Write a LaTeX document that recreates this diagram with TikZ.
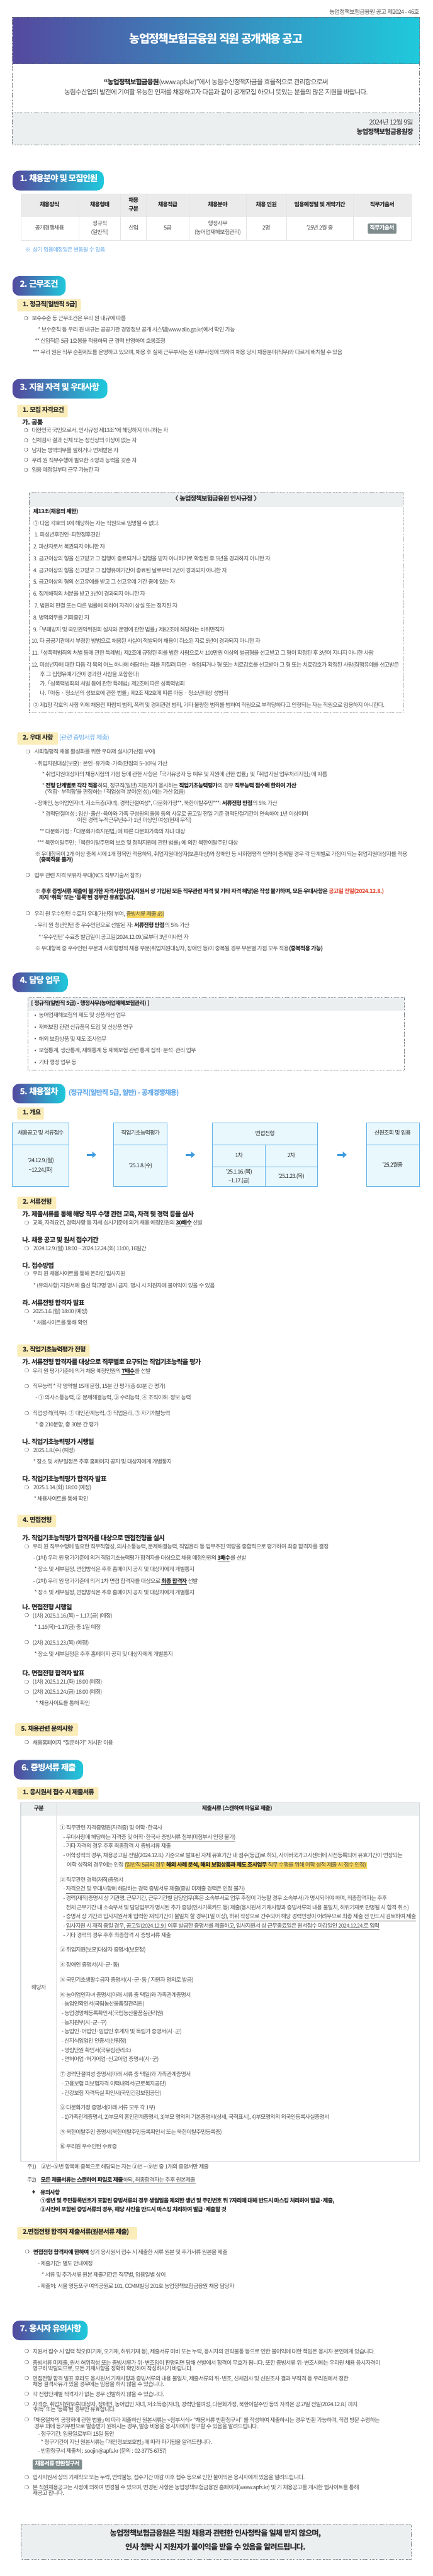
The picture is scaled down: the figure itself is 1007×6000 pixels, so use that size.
\documentclass[tikz,border=0pt]{standalone}
\usepackage{fontspec}
\usetikzlibrary{arrows.meta}
\setmainfont{Noto Sans CJK KR}[LetterSpace=-7.5]
\newfontfamily\bulfont{DejaVu Sans}
\definecolor{bodyc}{HTML}{505050}
\definecolor{darkc}{HTML}{2E2E2E}
\definecolor{gradl}{HTML}{54499E}
\definecolor{gradr}{HTML}{1FC9DC}
\definecolor{yellowc}{HTML}{FBEDBA}
\definecolor{panelc}{HTML}{EBEFF0}
\definecolor{bluet}{HTML}{62A8EA}
\definecolor{hdrc}{HTML}{EBEBEB}
\definecolor{btnc}{HTML}{7F8C8D}
\definecolor{flowf}{HTML}{E8F8FD}
\definecolor{flowl}{HTML}{62B3EC}
\definecolor{arrowc}{HTML}{3D9BE0}
\definecolor{hlc}{HTML}{FAD961}
\definecolor{redt}{HTML}{E4543F}
\definecolor{gridc}{HTML}{E4E4E4}
\definecolor{framec}{HTML}{D2D9DE}
\definecolor{dashc}{HTML}{6F767C}
\newcounter{tn}
\newcommand{\Zs}{\rule[-.42em]{0pt}{1.18em}}
\newcommand{\Tx}[4][body]{\stepcounter{tn}\node[#1] (t\arabic{tn}) at (#2,#3) {\Zs #4};}
\newcommand{\rbox}[6][]{%
  \pgfmathsetmacro\rw{(#5-#3)*0.75}\pgfmathsetmacro\rh{(#6-#4)*0.75}%
  \node[inner sep=0,outer sep=0,anchor=north west,minimum width=\rw pt,minimum height=\rh pt,#1] (#2) at (#3,#4) {};}
\newcommand{\Li}[4]{\Tx[bulc]{#1}{#3}{❍}\Tx{#2}{#3}{#4}}
\newcommand{\Bd}[1]{{\bfseries\color{darkc}#1}}
\newcommand{\lb}{\kern-.42em「}
\newcommand{\rb}{」\kern-.42em}
\tikzset{
  txt/.style={inner sep=0,outer sep=0,anchor=west},
  body/.style={txt,font=\fontsize{9.9}{12}\selectfont,text=bodyc},
  head/.style={txt,font=\fontsize{11.4}{14}\selectfont\bfseries,text=darkc},
  yhead/.style={txt,font=\fontsize{11.2}{14}\selectfont\bfseries,text=darkc},
  pillt/.style={txt,font=\fontsize{14.7}{18}\selectfont\bfseries,text=white},
  bulc/.style={txt,font=\bulfont\fontsize{9}{11}\selectfont,text=darkc},
  cell/.style={txt,anchor=center,font=\fontsize{9.9}{12}\selectfont,text=bodyc},
  hcell/.style={txt,anchor=center,font=\fontsize{9.9}{12}\selectfont\bfseries,text=darkc},
  bbody/.style={txt,font=\fontsize{9.9}{12}\selectfont\bfseries,text=darkc},
  pill/.style={rounded corners=12pt,left color=gradl,right color=gradr},
  ybox/.style={rounded corners=1.5pt,fill=yellowc},
  dashbox/.style={draw=dashc,line width=.75pt,dash pattern=on 1.5pt off 1pt},
  flowbox/.style={draw=flowl,line width=1pt,fill=flowf},
  hl/.style={fill=hlc},
  btn/.style={fill=btnc,rounded corners=1.5pt},
  flowarrow/.style={draw=arrowc,line width=3pt,-{Triangle[length=7pt,width=11pt]}},
  gridl/.style={draw=gridc,line width=.75pt},
  flowl2/.style={draw=flowl,line width=1pt}
}
\begin{document}
\begin{tikzpicture}[x=0.75pt,y=-0.75pt]
\useasboundingbox (0,0) rectangle (1007,6000);
\fill[white] (0,0) rectangle (1007,6000);
% ---------- banner
\Tx[body,anchor=east,font=\fontsize{10.4}{13}\selectfont]{976}{30}{농업정책보험금융원 공고 제2024 - 46호}
\rbox[left color=gradl,right color=gradr]{band}{29}{40.5}{976}{148}
\rbox[fill=panelc]{datebox}{29}{262}{976}{337}
\rbox[dashbox]{topframe}{29}{40.5}{976}{337}
\draw[dashbox] (29,148) -- (976,148);
\draw[dashbox] (29,262) -- (976,262);
\Tx[txt,anchor=center,font=\fontsize{20}{24}\selectfont\bfseries,text=white]{503}{94.6}{농업정책보험금융원 직원 공개채용 공고}
\Tx[txt,anchor=center,font=\fontsize{11.7}{14}\selectfont,text=bodyc]{503}{193}{\Bd{“농업정책보험금융원}(www.apfs.kr)”에서 농림수산정책자금을 효율적으로 관리함으로써}
\Tx[txt,anchor=center,font=\fontsize{11.6}{14}\selectfont,text=bodyc]{503}{216.6}{농림수산업의 발전에 기여할 유능한 인재를 채용하고자 다음과 같이 공개모집 하오니 뜻있는 분들의 많은 지원을 바랍니다.}
\Tx[txt,anchor=east,font=\fontsize{12}{14}\selectfont,text=bodyc]{962}{287}{2024년 12월 9일}
\Tx[txt,anchor=east,font=\fontsize{11.6}{14}\selectfont\bfseries,text=darkc]{962}{310}{농업정책보험금융원장}
% ---------- section 1
\rbox[pill]{pa}{29}{397.5}{241.5}{443.5}
\Tx[pillt]{46.5}{419}{1. 채용분야 및 모집인원}
\rbox[fill=hdrc]{tahdr}{48.4}{451}{957}{506}
\rbox[draw=gridc,line width=.75pt]{taframe}{48.4}{451}{957}{560}
\draw[gridl] (183,451) -- (183,560) (281,451) -- (281,560) (341,451) -- (341,560) (440,451) -- (440,560) (573,451) -- (573,560) (667,451) -- (667,560) (822,451) -- (822,560);
\Tx[hcell]{115.6}{478}{채용방식}
\Tx[hcell]{232.4}{478}{채용형태}
\Tx[hcell]{311}{468}{채용}
\Tx[hcell]{311}{488.5}{구분}
\Tx[hcell]{390.6}{478}{채용직급}
\Tx[hcell]{506.8}{478}{채용분야}
\Tx[hcell]{620}{478}{채용 인원}
\Tx[hcell]{744.4}{478}{임용예정일 및 계약기간}
\Tx[hcell]{889.6}{478}{직무기술서}
\Tx[cell]{115.6}{532.6}{공개경쟁채용}
\Tx[cell]{232.4}{522}{정규직}
\Tx[cell]{232.4}{542.5}{(일반직)}
\Tx[cell]{311}{532.6}{신입}
\Tx[cell]{390.6}{532.6}{5급}
\Tx[cell]{506.8}{522}{행정사무}
\Tx[cell]{506.8}{542.5}{(농어업재해보험관리)}
\Tx[cell]{620}{532.6}{2명}
\Tx[cell]{744.4}{532.6}{’25년 2월 중}
\rbox[btn]{btna}{856}{520.6}{922.5}{544.5}
\Tx[hcell,text=white]{889.3}{532.6}{직무기술서}
\Tx[body,text=bluet]{58}{584}{※}
\Tx[body,text=bluet]{76}{584}{상기 임용예정일은 변동될 수 있음}
% ---------- section 2
\rbox[pill]{pb}{29}{643}{153}{688.7}
\Tx[pillt]{46.5}{665}{2. 근무조건}
\rbox[ybox]{yb}{40}{696.3}{188.5}{725.3}
\Tx[yhead]{53}{711}{1. 정규직[일반직 5급]}
\Li{55}{74}{743.7}{보수수준 등 근무조건은 우리 원 내규에 따름}
\Tx{88.5}{770}{* 보수준칙 등 우리 원 내규는 공공기관 경영정보 공개 시스템(www.alio.go.kr)에서 확인 가능}
\Tx{81}{796.7}{** 신입직은 5급 1호봉을 적용하되 군 경력 반영하여 호봉조정}
\Tx{76}{823}{*** 우리 원은 직무 순환제도를 운영하고 있으며, 채용 후 실제 근무부서는 원 내부사정에 의하여 채용 당시 채용분야(직무)와 다르게 배치될 수 있음}
% ---------- section 3
\rbox[pill]{pc}{29}{882.7}{250}{928.3}
\Tx[pillt]{46.5}{904}{3. 지원 자격 및 우대사항}
\rbox[ybox]{yc}{40}{942.7}{157.5}{971.7}
\Tx[yhead]{53}{957}{1. 모집 자격요건}
\Tx[head]{52}{985.7}{가. 공통}
\Li{55}{74}{1005}{대한민국 국민으로서, 인사규정 제13조*에 해당하지 아니하는 자}
\Li{55}{74}{1028}{신체검사 결과 신체 또는 정신상의 이상이 없는 자}
\Li{55}{74}{1051}{남자는 병역의무를 필하거나 면제받은 자}
\Li{55}{74}{1074}{우리 원 직무수행에 필요한 소양과 능력을 갖춘 자}
\Li{55}{74}{1097.3}{임용 예정일부터 근무 가능한 자}
% regulation panel
\rbox[fill=panelc]{rhdr}{68}{1146.7}{937.5}{1180}
\rbox[dashbox]{rframe}{68}{1146.7}{937.5}{1660}
\Tx[txt,anchor=center,font=\fontsize{11.3}{14}\selectfont\bfseries,text=darkc]{503}{1164}{〈 농업정책보험금융원 인사규정 〉}
\Tx[bbody]{77.5}{1193.7}{제13조(채용의 제한)}
\Tx{77.5}{1220.7}{① 다음 각호의 1에 해당하는 자는 직원으로 임명될 수 없다.}
\Tx{80}{1248}{1. 피성년후견인·피한정후견인}
\Tx{77.5}{1275.3}{2. 파산자로서 복권되지 아니한 자}
\Tx{77.5}{1303.3}{3. 금고이상의 형을 선고받고 그 집행이 종료되거나 집행을 받지 아니하기로 확정된 후 5년을 경과하지 아니한 자}
\Tx{77.5}{1330.7}{4. 금고이상의 형을 선고받고 그 집행유예기간이 종료된 날로부터 2년이 경과되지 아니한 자}
\Tx{77.5}{1358}{5. 금고이상의 형의 선고유예를 받고 그 선고유예 기간 중에 있는 자}
\Tx{77.5}{1385.3}{6. 징계해직의 처분을 받고 3년이 경과되지 아니한 자}
\Tx{80}{1412.7}{7. 법원의 판결 또는 다른 법률에 의하여 자격이 상실 또는 정지된 자}
\Tx{77.5}{1440.7}{8. 병역의무를 기피중인 자}
\Tx{77.5}{1468}{9. \lb 부패방지 및 국민권익위원회 설치와 운영에 관한 법률\rb{} 제82조에 해당하는 비위면직자}
\Tx{73}{1495.3}{10. 타 공공기관에서 부정한 방법으로 채용된 사실이 적발되어 채용이 취소된 자로 5년이 경과되지 아니한 자}
\Tx{74}{1522.7}{11. \lb 성폭력범죄의 처벌 등에 관한 특례법\rb{} 제2조에 규정된 죄를 범한 사람으로서 100만원 이상의 벌금형을 선고받고 그 형이 확정된 후 3년이 지나지 아니한 사람}
\Tx{73}{1550}{12. 미성년자에 대한 다음 각 목의 어느 하나에 해당하는 죄를 저질러 파면 · 해임되거나 형 또는 치료감호를 선고받아 그 형 또는 치료감호가 확정된 사람(집행유예를 선고받은}
\Tx{93}{1573.3}{후 그 집행유예기간이 경과한 사람을 포함한다)}
\Tx{93}{1595.3}{가. \lb 성폭력범죄의 처벌 등에 관한 특례법\rb{} 제2조에 따른 성폭력범죄}
\Tx{93}{1617}{나. \lb 아동 · 청소년의 성보호에 관한 법률\rb{} 제2조 제2호에 따른 아동 · 청소년대상 성범죄}
\Tx{77.5}{1645}{② 제1항 각호의 사항 외에 채용전 파렴치 범죄, 폭력 및 경제관련 범죄, 기타 불량한 범죄를 범하여 직원으로 부적당하다고 인정되는 자는 직원으로 임용하지 아니한다.}
% preferences
\rbox[ybox]{yd}{40}{1705.7}{135}{1734.7}
\Tx[yhead]{53}{1720}{2. 우대 사항}
\Tx[body,font=\fontsize{11.2}{14}\selectfont,text=bluet]{138}{1720}{(관련 증빙서류 제출)}
\Li{59.4}{80}{1753.3}{사회형평적 채용 활성화를 위한 우대제 실시(가산점 부여)}
\Tx{81}{1780}{- 취업지원대상(보훈) : 본인·유가족·가족(만점의 5\textasciitilde 10\%) 가산}
\Tx{98}{1806}{* 취업지원대상자의 채용시험의 가점 등에 관한 사항은 \lb 국가유공자 등 예우 및 지원에 관한 법률\rb{} 및 \lb 취업지원 업무처리지침\rb 에 따름}
\Tx{98}{1832.3}{* \Bd{전형 단계별로 각각 적용}하되, 정규직(일반) 지원자가 응시하는 \Bd{직업기초능력평가}의 경우 \Bd{직무능력 점수에 한하여 가산}}
\Tx{105}{1846.3}{(‘적합· 부적합’을 판정하는 \lb 직업성격 분야(인성)\rb 에는 가산 없음)}
\Tx{81}{1872.7}{- 장애인, 농어업인자녀, 저소득층(자녀), 경력단절여성*, 다문화가정**, 북한이탈주민***: \Bd{서류전형 만점}의 5\% 가산}
\Tx{98}{1898.3}{* 경력단절여성 : 임신·출산·육아와 가족 구성원의 돌봄 등의 사유로 공고일 전일 기준 경력단절기간이 연속하여 1년 이상이며}
\Tx{179.5}{1912.3}{이전 경력 누적근무년수가 1년 이상인 여성(현재 무직)}
\Tx{92}{1938.3}{** 다문화가정 : \lb 다문화가족지원법\rb 에 따른 다문화가족의 자녀 대상}
\Tx{86.5}{1964.7}{*** 북한이탈주민 : \lb 북한이탈주민의 보호 및 정착지원에 관한 법률\rb 에 의한 북한이탈주민 대상}
\Tx{81}{1991}{※ 우대항목이 2개 이상 중복 시에 1개 항목만 적용하되, 취업지원대상자(보훈대상)와 장애인 등 사회형평적 인력이 중복될 경우 각 단계별로 가점이 되는 취업지원대상자를 적용}
\Tx{91}{2005}{\Bd{(중복적용 불가)}}
\Li{59.4}{80}{2041}{업무 관련 자격 보유자 우대(NCS 직무기술서 참조)}
\Tx{81}{2078.3}{\Bd{※ 추후 증빙서류 제출이 불가한 자격사항(입사지원서 상 기입된 모든 직무관련 자격 및 기타 자격 해당)은 작성 불가하며, 모든 우대사항은 {\color{redt}공고일 전일(2024.12.8.)}}}
\Tx{91}{2093.3}{\Bd{까지 ‘취득’ 또는 ‘등록’된 경우만 유효합니다.}}
\rbox[hl]{hla}{296}{2123}{381.5}{2138.7}
\Li{59.4}{80}{2130.7}{우리 원 우수인턴 수료자 우대(가산점 부여, 증빙서류 제출 必)}
\Tx{81}{2157}{- 우리 원 청년인턴 중 우수인턴으로 선발된 자: \Bd{서류전형 만점}의 5\% 가산}
\Tx{90}{2184.7}{* ‘우수인턴’ 수료증 발급일이 공고일(2024.12.09.)로부터 3년 이내인 자}
\Tx{81}{2212}{※ 우대항목 중 우수인턴 부문과 사회형평적 채용 부문(취업지원대상자, 장애인 등)이 중복될 경우 부문별 가점 모두 적용\Bd{(중복적용 가능)}}
% ---------- section 4
\rbox[pill]{pd}{29}{2265}{157.5}{2310.7}
\Tx[pillt]{46.5}{2286}{4. 담당 업무}
\rbox[fill=panelc]{dhdr}{64.5}{2324}{940.6}{2353.3}
\rbox[dashbox]{dframe}{64.5}{2324}{940.6}{2492.7}
\Tx[bbody]{72.3}{2339.3}{[ 정규직(일반직 5급) - 행정사무(농어업재해보험관리) ]}
\Tx{80}{2367.3}{•}\Tx{90.4}{2367.3}{농어업재해보험의 제도 및 상품개선 업무}
\Tx{80}{2394.3}{•}\Tx{90.4}{2394.3}{재해보험 관련 신규품목 도입 및 신상품 연구}
\Tx{80}{2421.7}{•}\Tx{90.4}{2421.7}{해외 보험상품 및 제도 조사업무}
\Tx{80}{2449}{•}\Tx{90.4}{2449}{보험통계, 생산통계, 재해통계 등 재해보험 관련 통계 집적·분석·관리 업무}
\Tx{80}{2476.3}{•}\Tx{90.4}{2476.3}{기타 행정 업무 등}
% ---------- section 5
\rbox[pill]{pe}{29}{2524.3}{152}{2570}
\Tx[pillt]{46.5}{2546}{5. 채용절차}
\Tx[txt,font=\fontsize{12}{14}\selectfont\bfseries,text=bluet]{159.5}{2547.7}{(정규직(일반직 5급, 일반) - 공개경쟁채용)}
\rbox[ybox]{ye}{40}{2579}{102}{2608}
\Tx[yhead]{53}{2593.3}{1. 개요}
% flow boxes
\rbox[flowbox]{fa}{29}{2616}{161}{2763.3}
\rbox[flowbox]{fb}{264.7}{2616}{389.3}{2763.3}
\rbox[flowbox]{fc}{495}{2616}{739}{2763.3}
\rbox[flowbox]{fd}{853}{2616}{976}{2763.3}
\draw[flowl2] (29,2667.3) -- (161,2667.3);
\draw[flowl2] (264.7,2667.3) -- (389.3,2667.3);
\draw[flowl2] (495,2667.3) -- (739,2667.3);
\draw[flowl2] (853,2667.3) -- (976,2667.3);
\draw[flowl2] (495,2718.3) -- (739,2718.3);
\draw[flowl2] (618,2667.3) -- (618,2763.3);
\draw[flowarrow,shorten <=30.75pt,shorten >=30.5pt] (fa.east) -- (fb.west);
\draw[flowarrow,shorten <=32pt,shorten >=30.75pt] (fb.east) -- (fc.west);
\draw[flowarrow,shorten <=34.5pt,shorten >=34.5pt] (fc.east) -- (fd.west);
\Tx[cell,text=darkc]{95}{2641.3}{채용공고 및 서류접수}
\Tx[cell,text=darkc]{327.3}{2641.3}{직업기초능력평가}
\Tx[cell,text=darkc]{617}{2641.3}{면접전형}
\Tx[cell,text=darkc]{914}{2641.3}{신원조회 및 임용}
\Tx[cell,text=darkc]{95}{2705.3}{’24.12.9.(월)}
\Tx[cell,text=darkc]{95}{2726.3}{\textasciitilde 12.24.(화)}
\Tx[cell,text=darkc]{327.3}{2716.3}{’25.1.8.(수)}
\Tx[cell,text=darkc]{556.5}{2692.7}{1차}
\Tx[cell,text=darkc]{678}{2692.7}{2차}
\Tx[cell,text=darkc]{556.5}{2731}{’25.1.16.(목)}
\Tx[cell,text=darkc]{556.5}{2752.7}{\textasciitilde 1.17.(금)}
\Tx[cell,text=darkc]{678}{2741.7}{’25.1.23.(목)}
\Tx[cell,text=darkc]{914}{2715.3}{’25.2월중}
% 2. documents
\rbox[ybox]{yf}{40}{2787}{131}{2816}
\Tx[yhead]{53}{2801.3}{2. 서류전형}
\Tx[head]{52}{2830}{가. 제출서류를 통해 해당 직무 수행 관련 교육, 자격 및 경력 등을 심사}
\Li{57}{76}{2850}{교육, 자격요건, 경력사항 등 자체 심사기준에 의거 채용 예정인원의 \underline{\Bd{30배수}} 선발}
\Tx[head]{52}{2890.7}{나. 채용 공고 및 원서 접수기간}
\Li{57}{77.5}{2910.7}{2024.12.9.(월) 18:00 \textasciitilde{} 2024.12.24.(화) 11:00, 16일간}
\Tx[head]{52}{2950.3}{다. 접수방법}
\Li{57}{76}{2969.3}{우리 원 채용사이트를 통해 온라인 입사지원}
\Tx{77.5}{2996}{* (유의사항) 지원서에 출신 학교명 명시 금지. 명시 시 지원자에 불이익이 있을 수 있음}
\Tx[head]{52}{3036.7}{라. 서류전형 합격자 발표}
\Li{57}{76}{3056.7}{2025.1.6.(월) 18:00 (예정)}
\Tx{77.5}{3082.7}{* 채용사이트를 통해 확인}
% 3. test
\rbox[ybox]{yg}{40}{3131.3}{209}{3160.3}
\Tx[yhead]{53}{3145.7}{3. 직업기초능력평가 전형}
\Tx[head]{52}{3175.3}{가. 서류전형 합격자를 대상으로 직무별로 요구되는 직업기초능력을 평가}
\Li{57}{76}{3195}{우리 원 평가기준에 의거 채용 예정인원의 \underline{\Bd{7배수}}를 선발}
\Li{57}{76}{3231.3}{직무능력 * 각 영역별 15개 문항, 15분 간 평가(총 60분 간 평가)}
\Tx{82.6}{3257.7}{- ① 의사소통능력, ② 문제해결능력, ③ 수리능력, ④ 조직이해·정보 능력}
\Li{57}{76}{3294}{직업성격(적/부): ① 대인관계능력, ② 직업윤리, ③ 자기개발능력}
\Tx{82.6}{3320.3}{* 총 210문항, 총 30분 간 평가}
\Tx[head]{52}{3361}{나. 직업기초능력평가 시행일}
\Li{57}{77.5}{3380}{2025.1.8.(수) (예정)}
\Tx{77.5}{3406.3}{* 장소 및 세부일정은 추후 홈페이지 공지 및 대상자에게 개별통지}
\Tx[head]{52}{3447}{다. 직업기초능력평가 합격자 발표}
\Li{57}{78}{3466.7}{2025.1.14.(화) 18:00 (예정)}
\Tx{79}{3493.3}{* 채용사이트를 통해 확인}
% 4. interview
\rbox[ybox]{yh}{40}{3528.3}{131}{3557.3}
\Tx[yhead]{53}{3542.7}{4. 면접전형}
\Tx[head]{52}{3584.7}{가. 직업기초능력평가 합격자를 대상으로 면접전형을 실시}
\Li{57}{76}{3605}{우리 원 직무수행에 필요한 직무적합성, 의사소통능력, 문제해결능력, 직업윤리 등 업무추진 역량을 종합적으로 평가하여 최종 합격자를 결정}
\Tx{77.5}{3631.3}{- (1차) 우리 원 평가기준에 의거 직업기초능력평가 합격자를 대상으로 채용 예정인원의 \underline{\Bd{3배수}}를 선발}
\Tx{80}{3657.7}{* 장소 및 세부일정, 면접방식은 추후 홈페이지 공지 및 대상자에게 개별통지}
\Tx{77.5}{3684.3}{- (2차) 우리 원 평가기준에 의거 1차 면접 합격자를 대상으로 \underline{\Bd{최종 합격자}} 선발}
\Tx{80}{3710.7}{* 장소 및 세부일정, 면접방식은 추후 홈페이지 공지 및 대상자에게 개별통지}
\Tx[head]{52}{3746}{나. 면접전형 시행일}
\Li{57}{76}{3765.3}{(1차) 2025.1.16.(목) \textasciitilde{} 1.17.(금) (예정)}
\Tx{80}{3791.7}{* 1.16(목)\textasciitilde 1.17(금) 중 1일 예정}
\Li{57}{76}{3828.3}{(2차) 2025.1.23.(목) (예정)}
\Tx{80}{3854.7}{* 장소 및 세부일정은 추후 홈페이지 공지 및 대상자에게 개별통지}
\Tx[head]{52}{3900}{다. 면접전형 합격자 발표}
\Li{57}{76}{3920}{(1차) 2025.1.21.(화) 18:00 (예정)}
\Li{57}{76}{3943.3}{(2차) 2025.1.24.(금) 18:00 (예정)}
\Tx{83}{3969}{* 채용사이트를 통해 확인}
% 5. inquiry
\rbox[ybox]{yi}{35.5}{4013.7}{182}{4042.7}
\Tx[yhead]{49}{4028.3}{5. 채용관련 문의사항}
\Li{57}{76}{4061}{채용홈페이지 “질문하기” 게시판 이용}
% ---------- section 6
\rbox[pill]{pf}{32}{4099}{193.7}{4145}
\Tx[pillt]{50}{4120}{6. 증빙서류 제출}
\rbox[ybox]{yj}{40}{4162.3}{229}{4191.3}
\Tx[yhead]{53}{4176.7}{1. 응시원서 접수 시 제출서류}
\rbox[fill=panelc]{tfhdr}{48.4}{4199}{976}{4228.3}
\draw[gridl] (131,4199) -- (131,5034);
\rbox[draw=framec,line width=1.6pt]{tfframe}{48.4}{4199}{976}{5034}
\Tx[hcell]{90.4}{4214}{구분}
\Tx[hcell]{552}{4214}{제출서류 (스캔하여 파일로 제출)}
\Tx[cell]{90.4}{4630.7}{해당자}
\Tx{139}{4259.3}{① 직무관련 자격증명원(자격증) 및 어학·한국사}
\Tx{147}{4281}{- \underline{우대사항에 해당하는 자격증 및 어학·한국사 증빙서류 첨부(미첨부시 인정 불가)}}
\Tx{147}{4302.3}{- 기타 자격의 경우 추후 최종합격 시 증빙서류 제출}
\Tx{147}{4324}{- 어학성적의 경우, 채용공고일 전일(2024.12.8.) 기준으로 발표된 자체 유효기간 내 점수(등급)로 하되, 사이버국가고시센터에 사전등록되어 유효기간이 연장되는}
\rbox[hl]{hlb}{290.5}{4337.7}{853.5}{4353.7}
\Tx{155.6}{4345.7}{어학 성적의 경우에는 인정 (일반직 5급의 경우 \Bd{해외 사례 분석, 해외 보험상품과 제도 조사업무} 직무 수행을 위해 어학 성적 제출 시 점수 인정)}
\Tx{139}{4380.7}{② 직무관련 경력(재직)증명서}
\Tx{147}{4401.7}{- \underline{자격요건 및 우대사항에 해당하는 경력 증빙서류 제출(증빙 미제출 경력은 인정 불가)}}
\Tx{147}{4423}{- 경력(재직)증명서 상 기관명, 근무기간, 근무기간별 담당업무(혹은 소속부서로 업무 추정이 가능할 경우 소속부서)가 명시되어야 하며, 최종합격자는 추후}
\Tx{153.6}{4444.7}{전체 근무기간 내 소속부서 및 담당업무가 명시된 추가 증빙(인사기록카드 등) 제출(응시원서 기재사항과 증빙서류의 내용 불일치, 허위기재로 판명될 시 합격 취소)}
\Tx{147}{4466}{- \underline{증명서 상 기간과 입사지원서에 입력한 재직기간이 불일치 할 경우(1일 이상), 허위 작성으로 간주되어 해당 경력인정이 어려우므로 최종 제출 전 반드시 검토하여 제출}}
\Tx{147}{4487.7}{- \underline{입사지원 시 재직 중일 경우, 공고일(2024.12.9.) 이후 발급한 증명서를 제출하고, 입사지원서 상 근무종료일은 원서접수 마감일인 2024.12.24.로 입력}}
\Tx{147}{4509}{- 기타 경력의 경우 추후 최종합격 시 증빙서류 제출}
\Tx{139}{4544}{③ 취업지원(보훈)대상자 증명서(보훈청)}
\Tx{139}{4579}{④ 장애인 증명서(시·군·동)}
\Tx{139}{4613.7}{⑤ 국민기초생활수급자 증명서(시·군·동 / 지원자 명의로 발급)}
\Tx{139}{4648.7}{⑥ 농어업인자녀 증명서(아래 서류 중 택일)와 가족관계증명서}
\Tx{143.3}{4669.3}{- 농업인확인서(국립농산물품질관리원)}
\Tx{143.3}{4691}{- 농업경영체등록확인서(국립농산물품질관리원)}
\Tx{143.3}{4712.7}{- 농지원부(시·군·구)}
\Tx{143.3}{4734.3}{- 농업인·어업인·임업인 후계자 및 독림가 증명서(시·군)}
\Tx{143.3}{4755.7}{- 신지식임업인 인증서(산림청)}
\Tx{143.3}{4777.3}{- 영림단원 확인서(국유림관리소)}
\Tx{143.3}{4798.7}{- 면허어업·허가어업·신고어업 증명서(시·군)}
\Tx{139}{4833.3}{⑦ 경력단절여성 증명서(아래 서류 중 택일)와 가족관계증명서}
\Tx{143.3}{4855}{- 고용보험 피보험자격 이력내역서(근로복지공단)}
\Tx{143.3}{4876.7}{- 건강보험 자격득실 확인서(국민건강보험공단)}
\Tx{139}{4911.3}{⑧ 다문화가정 증명서(아래 서류 모두 각 1부)}
\Tx{143.3}{4932.7}{- 1)가족관계증명서, 2)부모의 혼인관계증명서, 3)부모 명의의 기본증명서(상세, 국적표시), 4)부모명의의 외국인등록사실증명서}
\Tx{139}{4967.7}{⑨ 북한이탈주민 증명서(북한이탈주민등록확인서 또는 북한이탈주민등록증)}
\Tx{139}{5002.3}{⑩ 우리원 우수인턴 수료증}
\Tx{63}{5049.3}{주1)}
\Tx{95}{5049.3}{③번\textasciitilde ⑨번 항목에 중복으로 해당되는 자는 ③번 \textasciitilde{} ⑨번 중 1개의 증명서만 제출}
\Tx{63}{5079}{주2)}
\Tx{95}{5079}{\underline{\Bd{모든 제출서류는 스캔하여 파일로 제출}하되, 최종합격자는 추후 원본제출}}
\Tx[bulc]{73}{5108.3}{♦}
\Tx[bbody]{94}{5108.3}{유의사항}
\Tx[bbody]{94}{5128.3}{①생년 및 주민등록번호가 포함된 증빙서류의 경우 생월일을 제외한 생년 및 주민번호 뒤 7자리에 대해 반드시 마스킹 처리하여 발급·제출,}
\Tx[bbody]{94}{5148.3}{②사진이 포함된 증빙서류의 경우, 해당 사진을 반드시 마스킹 처리하여 발급·제출할 것}
\rbox[ybox]{yk}{40}{5187}{319}{5216}
\Tx[yhead]{53}{5201.3}{2.면접전형 합격자 제출서류(원본서류 제출)}
\Li{58}{77.5}{5247.3}{\Bd{면접전형 합격자에 한하여} 상기 응시원서 접수 시 제출한 서류 원본 및 추가서류 원본을 제출}
\Tx{88}{5273.7}{- 제출기간: 별도 안내예정}
\Tx{97}{5300.3}{* 서류 및 추가서류 원본 제출기간은 직무별, 임용일별 상이}
\Tx{88}{5326.7}{- 제출처: 서울 영등포구 여의공원로 101, CCMM빌딩 201호 농업정책보험금융원 채용 담당자}
% ---------- section 7
\rbox[pill]{pg}{29}{5405}{204}{5450.7}
\Tx[pillt]{46.5}{5426.7}{7. 응시자 유의사항}
\Li{57}{76}{5478.7}{지원서 접수 시 입력 착오(미기재, 오기재, 허위기재 등), 제출서류 미비 또는 누락, 응시자의 연락불통 등으로 인한 불이익에 대한 책임은 응시자 본인에게 있습니다.}
\Li{57}{76}{5505.3}{증빙서류 미제출, 원서 허위작성 또는 증빙서류가 위·변조임이 판명되면 당해 선발에서 합격이 무효가 됩니다. 또한 증빙서류 위·변조시에는 우리원 채용 응시자격이}
\Tx{76}{5518.7}{영구히 박탈되므로, 모든 기재사항을 정확히 확인하여 작성하시기 바랍니다.}
\Li{57}{76}{5541.7}{면접전형 합격 발표 후라도 응시원서 기재사항과 증빙서류의 내용 불일치, 제출서류의 위·변조, 신체검사 및 신원조사 결과 부적격 등 우리원에서 정한}
\Tx{76}{5555.3}{채용 결격사유가 있을 경우에는 임용을 하지 않을 수 있습니다.}
\Li{57}{76}{5578.3}{각 전형단계별 적격자가 없는 경우 선발하지 않을 수 있습니다.}
\Li{57}{76}{5601.7}{자격증, 취업지원(보훈)대상자, 장애인, 농어업인 자녀, 저소득층(자녀), 경력단절여성, 다문화가정, 북한이탈주민 등의 자격은 공고일 전일(2024.12.8.) 까지}
\Tx{76}{5614.7}{‘취득’ 또는 ‘등록’된 경우만 유효합니다.}
\Li{57}{76}{5638.3}{\lb 채용절차의 공정화에 관한 법률\rb 에 따라 제출하신 원본서류는 <첨부서식> “채용서류 반환청구서” 를 작성하여 제출하시는 경우 반환 가능하며, 직접 방문 수령하는}
\Tx{80}{5653.7}{경우 외에 등기우편으로 발송받기 원하시는 경우, 발송 비용을 응시자에게 청구할 수 있음을 알려드립니다.}
\Tx{89}{5670.7}{- 청구기간: 임용일로부터 15일 동안}
\Tx{95}{5690.3}{* 청구기간이 지난 원본서류는\lb 개인정보보호법\rb 에 따라 파기됨을 알려드립니다.}
\Tx{89}{5710.7}{- 반환청구서 제출처 : soojin@apfs.kr (문의 : 02-3775-6757)}
\rbox[btn]{btnb}{76}{5728.3}{191}{5752}
\Tx[hcell,text=white]{133.5}{5740}{채용서류 반환청구서}
\Li{57}{76}{5773}{입사지원서 상의 기재착오 또는 누락, 연락불능, 접수기간 마감 이후 접수 등으로 인한 불이익은 응시자에게 있음을 알려드립니다.}
\Li{57}{76}{5796.3}{본 직원채용공고는 사정에 의하여 변경될 수 있으며, 변경된 사항은 농업정책보험금융원 홈페이지(www.apfs.kr) 및 기 채용공고를 게시한 웹사이트를 통해}
\Tx{76}{5809.3}{재공고 합니다.}
\rbox[fill=panelc]{bfill}{48.4}{5879.3}{957}{5960.7}
\rbox[dashbox]{bframe}{48.4}{5879.3}{957}{5960.7}
\Tx[txt,anchor=center,font=\fontsize{13.5}{16}\selectfont\bfseries,text=darkc]{501.6}{5903.3}{농업정책보험금융원은 직원 채용과 관련한 인사청탁을 일체 받지 않으며,}
\Tx[txt,anchor=center,font=\fontsize{13.5}{16}\selectfont\bfseries,text=darkc]{501.6}{5936}{인사 청탁 시 지원자가 불이익을 받을 수 있음을 알려드립니다.}
\end{tikzpicture}
\end{document}
